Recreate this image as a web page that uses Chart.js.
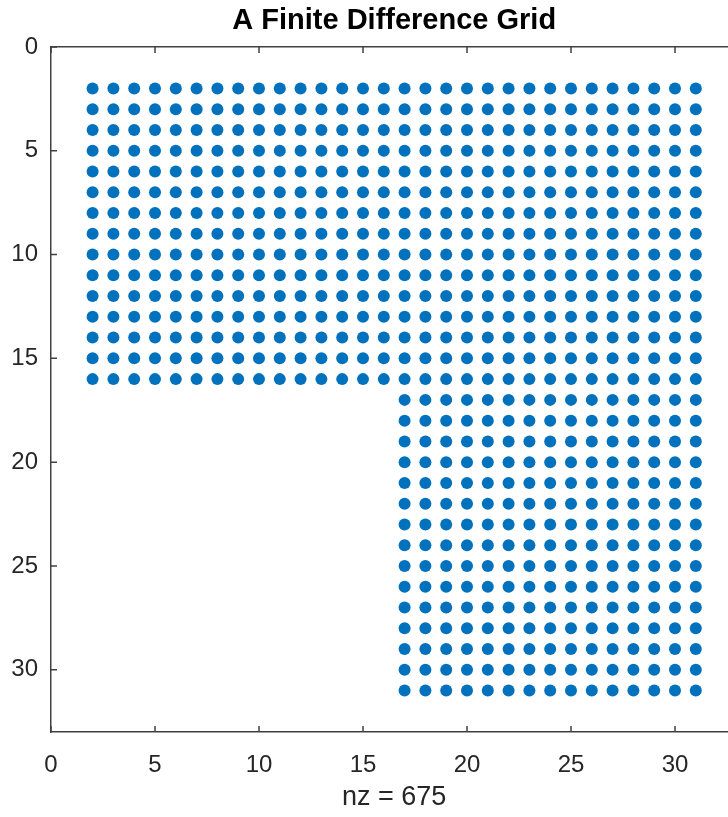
<!DOCTYPE html>
<html>
<head>
<meta charset="utf-8">
<title>A Finite Difference Grid</title>
<script src="https://cdn.jsdelivr.net/npm/chart.js@4.4.1/dist/chart.umd.min.js"></script>
<style>
  html, body { margin: 0; padding: 0; background: #fff; overflow: hidden; }
  #wrap { width: 788px; height: 817px; }
</style>
</head>
<body>
<div id="wrap"><canvas id="grid-chart" width="788" height="817"></canvas></div>
<script>
// grid nodes: upper block spans all columns, lower block only the right half
let top_cols = [2, 3, 4, 5, 6, 7, 8, 9, 10, 11, 12, 13, 14, 15, 16, 17, 18, 19, 20, 21, 22, 23, 24, 25, 26, 27, 28, 29, 30, 31];
let top_rows = [2, 3, 4, 5, 6, 7, 8, 9, 10, 11, 12, 13, 14, 15, 16];
let bottom_cols = [17, 18, 19, 20, 21, 22, 23, 24, 25, 26, 27, 28, 29, 30, 31];
let bottom_rows = [17, 18, 19, 20, 21, 22, 23, 24, 25, 26, 27, 28, 29, 30, 31];
// axis ticks
let x_ticks = [0, 5, 10, 15, 20, 25, 30];
let y_ticks = [0, 5, 10, 15, 20, 25, 30];
let axis_min = 0;
let axis_max = 33;
let chart_title = 'A Finite Difference Grid';
let nz_label = 'nz = 675';

let dot_color = '#0072BD';
let axis_color = '#404040';
let text_color = '#262626';
let font_family = '"Liberation Sans", Arial, Helvetica, sans-serif';

// build the point list from the row/column arrays
let points = [];
top_rows.forEach(r => top_cols.forEach(c => points.push({x: c, y: r})));
bottom_rows.forEach(r => bottom_cols.forEach(c => points.push({x: c, y: r})));

// MATLAB style box: right edge and inward tick marks on all sides
const boxTicks = {
    id: 'boxTicks',
    afterDraw(chart) {
        const {ctx, chartArea: a, scales: {x, y}} = chart;
        const len = 6;
        ctx.save();
        ctx.strokeStyle = axis_color;
        ctx.lineWidth = 1.5;
        ctx.beginPath();
        ctx.moveTo(a.right, a.top);
        ctx.lineTo(a.right, a.bottom);
        x_ticks.forEach(v => {
            let px = x.getPixelForValue(v);
            ctx.moveTo(px, a.bottom); ctx.lineTo(px, a.bottom - len);
            ctx.moveTo(px, a.top); ctx.lineTo(px, a.top + len);
        });
        y_ticks.forEach(v => {
            let py = y.getPixelForValue(v);
            ctx.moveTo(a.left, py); ctx.lineTo(a.left + len, py);
            ctx.moveTo(a.right, py); ctx.lineTo(a.right - len, py);
        });
        ctx.stroke();
        ctx.restore();
    }
};

let grid_chart = new Chart(document.getElementById('grid-chart').getContext('2d'), {
    type: 'scatter',
    data: {
        datasets: [{
            label: 'nonzeros',
            data: points,
            backgroundColor: dot_color,
            borderWidth: 0,
            pointRadius: 6,
            pointHoverRadius: 6
        }]
    },
    options: {
        responsive: false,
        animation: false,
        devicePixelRatio: 1,
        layout: { padding: { left: 0, right: 50.6, top: 0, bottom: 0 } },
        plugins: {
            legend: { display: false },
            tooltip: { enabled: false }
        },
        scales: {
            x: {
                type: 'linear',
                min: axis_min,
                max: axis_max,
                afterFit(scale) { scale.height = 85; },
                afterBuildTicks(scale) { scale.ticks = x_ticks.map(v => ({value: v})); },
                grid: { display: false, drawTicks: false },
                border: { display: true, color: axis_color, width: 1.5 },
                ticks: {
                    color: text_color,
                    font: { family: font_family, size: 24 },
                    padding: 19,
                    maxRotation: 0
                },
                title: {
                    display: true,
                    text: nz_label,
                    color: text_color,
                    font: { family: font_family, size: 27 },
                    padding: { top: 0, bottom: 3 }
                }
            },
            // top axis only carries the box edge and the title (centred over the plot)
            xTop: {
                type: 'linear',
                position: 'top',
                min: axis_min,
                max: axis_max,
                afterFit(scale) { scale.height = 47; },
                grid: { display: false, drawTicks: false },
                border: { display: true, color: axis_color, width: 1.5 },
                ticks: { display: false },
                title: {
                    display: true,
                    text: chart_title,
                    color: '#000',
                    font: { family: font_family, size: 29, weight: 'bold' },
                    padding: { top: 4, bottom: 0 }
                }
            },
            y: {
                type: 'linear',
                reverse: true,
                min: axis_min,
                max: axis_max,
                afterFit(scale) { scale.width = 51; },
                afterBuildTicks(scale) { scale.ticks = y_ticks.map(v => ({value: v})); },
                grid: { display: false, drawTicks: false },
                border: { display: true, color: axis_color, width: 1.5 },
                ticks: {
                    color: text_color,
                    font: { family: font_family, size: 24 },
                    padding: 13
                }
            }
        }
    },
    plugins: [boxTicks]
});
</script>
</body>
</html>
